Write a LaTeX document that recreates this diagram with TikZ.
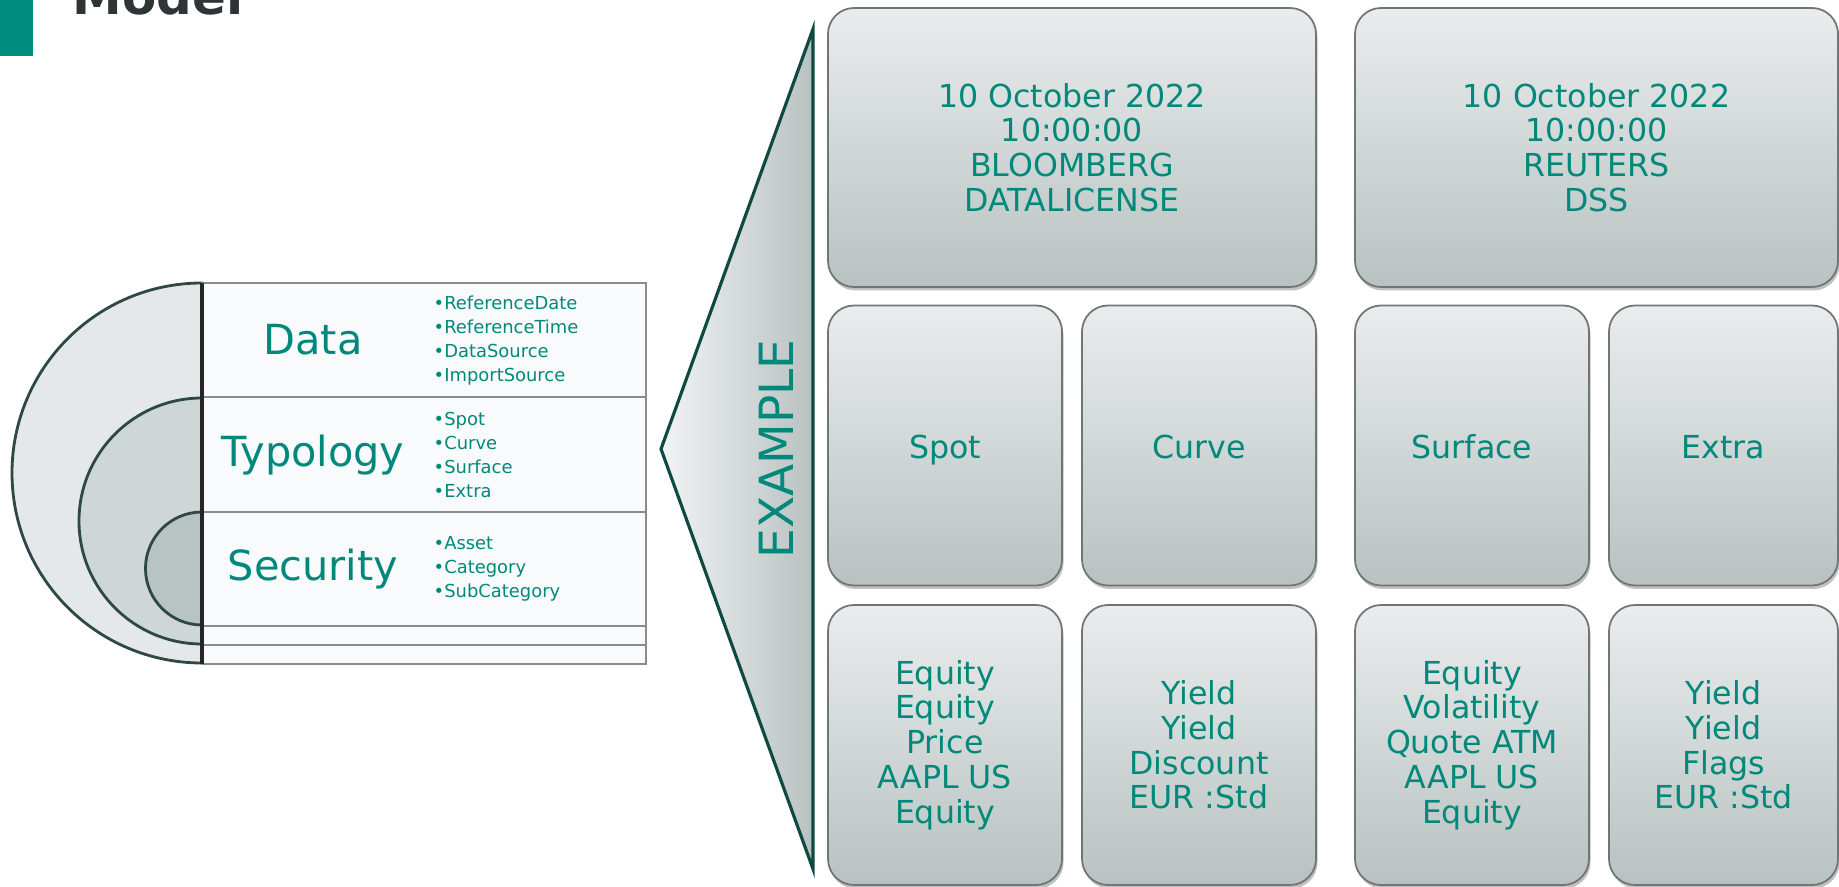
\documentclass[tikz,border=0pt]{standalone}
\usepackage{fontspec}
\setmainfont{DejaVu Sans}
\usepackage{xcolor}
\usepackage{tikz}
\usetikzlibrary{positioning,shadows,calc}

\definecolor{tealbar}{RGB}{0,140,125}
\definecolor{tealtxt}{RGB}{0,137,122}
\definecolor{titlegray}{RGB}{47,52,54}
\definecolor{discline}{RGB}{45,72,70}
\definecolor{discA}{RGB}{228,232,232}
\definecolor{discB}{RGB}{206,214,214}
\definecolor{discC}{RGB}{184,196,196}
\definecolor{rowline}{RGB}{140,140,140}
\definecolor{rowfill}{RGB}{249,250,252}
\definecolor{calloutline}{RGB}{14,74,66}
\definecolor{cardline}{RGB}{112,117,117}
\definecolor{cardtop}{RGB}{234,236,237}
\definecolor{cardbot}{RGB}{184,194,193}

\begin{document}
\begin{tikzpicture}[
    halfdisc/.style={draw=discline, line width=0.8pt},
    row/.style={rectangle, draw=rowline, fill=rowfill, minimum width=4.44cm, inner sep=0, outer sep=0},
    rowlabel/.style={text=tealtxt, font=\fontsize{11.8}{14}\selectfont},
    bullets/.style={anchor=west, align=left, inner sep=0, text=tealtxt, font=\fontsize{5.1}{6.75}\selectfont},
    card/.style={rectangle, rounded corners=0.26cm, draw=cardline, line width=0.5pt, top color=cardtop, bottom color=cardbot,
        drop shadow={shadow xshift=0.015cm, shadow yshift=-0.035cm, opacity=0.35, fill=black!70},
        align=center, text=tealtxt, font=\fontsize{9}{9.9}\selectfont},
    bigcard/.style={card, minimum width=4.88cm, minimum height=2.79cm},
    smallcard/.style={card, minimum width=2.34cm, minimum height=2.8cm},
    typecard/.style={smallcard, text height=0.76em, text depth=0pt}
]
\useasboundingbox (0,0) rectangle (18.39,8.86);
\clip (0,0) rectangle (18.39,8.86);

% Title
\fill[tealbar] (0,8.30) rectangle (0.33,8.86);
\node[anchor=base west, inner sep=0, text=titlegray, font=\bfseries\fontsize{14.2}{16}\selectfont] (title) at (0.72,8.71) {Model};

% Nested half discs
\draw[halfdisc, fill=discA] (2.02,6.03) arc (90:270:1.90) -- cycle;
\draw[halfdisc, fill=discB] (2.02,4.88) arc (90:270:1.23) -- cycle;
\draw[halfdisc, fill=discC] (2.02,3.74) arc (90:270:0.565) -- cycle;

% Table rows
\node[row, minimum height=1.14cm, anchor=north west] (datarow) at (2.02,6.03) {};
\node[row, minimum height=1.15cm, below=0pt of datarow] (typrow) {};
\node[row, minimum height=1.14cm, below=0pt of typrow] (secrow) {};
\node[row, minimum height=0.19cm, below=0pt of secrow] (emptyA) {};
\node[row, minimum height=0.19cm, below=0pt of emptyA] (emptyB) {};
\draw[line width=1.2pt, draw=black!85] (datarow.north west) -- (emptyB.south west);

% Row labels
\node[rowlabel] (datalbl) at (3.13,5.46) {Data};
\node[rowlabel] (typlbl) at (3.13,4.31) {Typology};
\node[rowlabel] (seclbl) at (3.13,3.17) {Security};

\node[bullets] (datalist) at (4.33,5.455) {\textbullet ReferenceDate\\\textbullet ReferenceTime\\\textbullet DataSource\\\textbullet ImportSource};
\node[bullets] (typlist) at (4.33,4.31) {\textbullet Spot\\\textbullet Curve\\\textbullet Surface\\\textbullet Extra};
\node[bullets] (seclist) at (4.33,3.17) {\textbullet Asset\\\textbullet Category\\\textbullet SubCategory};

% Callout
\coordinate (apex) at (6.61,4.37);
\coordinate (ctop) at (8.13,8.57);
\coordinate (cbot) at (8.13,0.17);
\draw[draw=calloutline, line width=0.9pt, left color=cardtop!60!white, right color=cardbot] (apex) -- (ctop) -- (cbot) -- cycle;
\node[rotate=90, text=tealtxt, font=\fontsize{13.4}{16}\selectfont] (example) at (7.76,4.37) {EXAMPLE};

% Top cards
\node[bigcard] (bloom) at (10.72,7.385) {10 October 2022\\10:00:00\\BLOOMBERG\\DATALICENSE};
\node[bigcard, minimum width=4.83cm] (reut) at (15.965,7.385) {10 October 2022\\10:00:00\\REUTERS\\DSS};

% Typology cards
\node[typecard] (spot) at (9.45,4.405) {Spot};
\node[typecard] (curve) at (11.99,4.405) {Curve};
\node[typecard] (surface) at (14.72,4.405) {Surface};
\node[typecard, minimum width=2.29cm] (extra) at (17.235,4.405) {Extra};

% Security cards
\node[smallcard] (spotsec) at (9.45,1.41) {Equity\\Equity\\Price\\AAPL US\\Equity};
\node[smallcard] (curvesec) at (11.99,1.41) {Yield\\Yield\\Discount\\EUR :Std};
\node[smallcard] (surfsec) at (14.72,1.41) {Equity\\Volatility\\Quote ATM\\AAPL US\\Equity};
\node[smallcard, minimum width=2.29cm] (extrasec) at (17.235,1.41) {Yield\\Yield\\Flags\\EUR :Std};

\end{tikzpicture}
\end{document}
